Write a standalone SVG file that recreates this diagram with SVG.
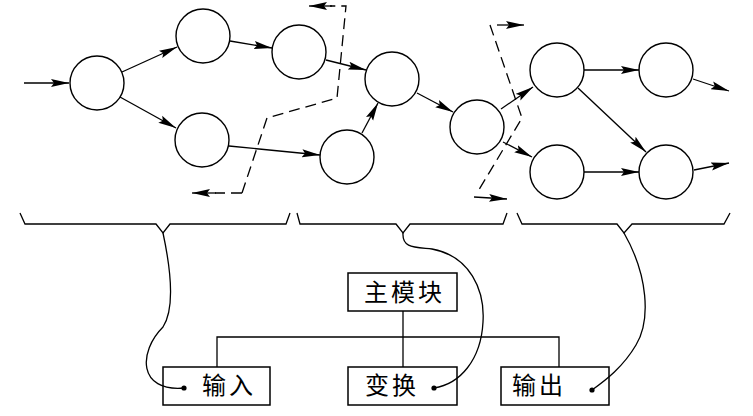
<svg xmlns="http://www.w3.org/2000/svg" width="753" height="416" viewBox="0 0 753 416">
<style>
.n{fill:#fff;stroke:#000;stroke-width:1.4}
.e{fill:none;stroke:#000;stroke-width:1.3;marker-end:url(#ah)}
.d{fill:none;stroke:#000;stroke-width:1.3;stroke-dasharray:11,6}
.l{fill:none;stroke:#000;stroke-width:1.3}
.b{fill:none;stroke:#000;stroke-width:1.5}
.t{font-family:"Noto Sans CJK SC","Noto Sans",sans-serif;font-size:24px;letter-spacing:3px;fill:#000}
</style>
<defs>
<marker id="ah" markerUnits="userSpaceOnUse" markerWidth="19" markerHeight="9" viewBox="0 0 19 9" refX="18" refY="4.5" orient="auto">
<path d="M0,0.5 L18,4.5 L0,8.5 L3,4.5 z" fill="#000"/>
</marker>
</defs>
<g id="connectors">
<line class="e" x1="24" y1="83" x2="69" y2="83"/>
<line class="e" x1="122" y1="72" x2="177" y2="47"/>
<line class="e" x1="120" y1="97" x2="176" y2="128"/>
<line class="e" x1="230" y1="41" x2="272" y2="48"/>
<line class="e" x1="229" y1="146" x2="320" y2="155"/>
<line class="e" x1="326" y1="60" x2="366" y2="70"/>
<line class="e" x1="362" y1="133" x2="378" y2="103"/>
<line class="e" x1="417" y1="93" x2="453" y2="112"/>
<line class="e" x1="501" y1="109" x2="533" y2="87"/>
<line class="e" x1="503" y1="142" x2="532" y2="157"/>
<line class="e" x1="584" y1="70" x2="639" y2="70"/>
<line class="e" x1="578" y1="88" x2="646" y2="152"/>
<line class="e" x1="584" y1="172" x2="639" y2="172"/>
<line class="e" x1="693" y1="79" x2="729" y2="91"/>
<line class="e" x1="694" y1="170" x2="729" y2="163"/>
<polyline class="d" points="242,193 267,118 337,98 346,6 330,6"/>
<line class="e" x1="332" y1="6" x2="309" y2="6"/>
<line class="l" x1="242" y1="193" x2="215" y2="193" stroke-dasharray="11,6"/>
<line class="e" x1="216" y1="193" x2="192" y2="193"/>
<polyline class="d" points="490,25 522,118 477,193"/>
<line class="e" x1="497" y1="25" x2="524" y2="25"/>
<line class="e" x1="474" y1="197" x2="507" y2="199"/>
<polyline class="l" points="20,213 25,224 156,224 163,233 170,224 286,224 290,213"/>
<polyline class="l" points="297,213 300,224 396,224 403,233 410,224 503,224 507,213"/>
<polyline class="l" points="517,213 522,224 617,224 624,233 632,224 724,224 730,213"/>
<path class="l" d="M163,233 C172,275 174,310 163,327 C138,352 138,392 184,388"/>
<path class="l" d="M403,233 C402,248 414,247 432,249 C470,256 485,290 483,322 C481,360 460,384 434,388"/>
<path class="l" d="M624,233 C648,275 651,320 636,345 C623,367 606,380 592,390"/>
<line class="l" x1="403" y1="311" x2="403" y2="367"/>
<polyline class="l" points="217,367 217,337 559,337 559,367"/>
</g>
<g id="n1"><circle class="n" cx="97" cy="83" r="27"/></g>
<g id="n2"><circle class="n" cx="203" cy="36" r="27"/></g>
<g id="n3"><circle class="n" cx="202" cy="140" r="27"/></g>
<g id="n4"><circle class="n" cx="299" cy="52" r="27"/></g>
<g id="n5"><circle class="n" cx="392" cy="79" r="27"/></g>
<g id="n6"><circle class="n" cx="347" cy="157" r="27"/></g>
<g id="n7"><circle class="n" cx="477" cy="127" r="27"/></g>
<g id="n8"><circle class="n" cx="557" cy="70" r="27"/></g>
<g id="n9"><circle class="n" cx="666" cy="70" r="27"/></g>
<g id="n10"><circle class="n" cx="557" cy="172" r="27"/></g>
<g id="n11"><circle class="n" cx="666" cy="172" r="27"/></g>
<g id="main"><rect class="b" x="348" y="273" width="109" height="38"/><text class="t" x="364" y="301">主模块</text></g>
<g id="input"><rect class="b" x="163" y="367" width="107" height="38"/><text class="t" x="202" y="394">输入</text><circle cx="184" cy="388" r="2.6" fill="#000"/></g>
<g id="transform"><rect class="b" x="348" y="367" width="109" height="38"/><text class="t" x="365" y="394">变换</text><circle cx="434" cy="388" r="2.6" fill="#000"/></g>
<g id="output"><rect class="b" x="501" y="367" width="108" height="38"/><text class="t" x="512" y="394">输出</text><circle cx="592" cy="390" r="2.6" fill="#000"/></g>
</svg>
